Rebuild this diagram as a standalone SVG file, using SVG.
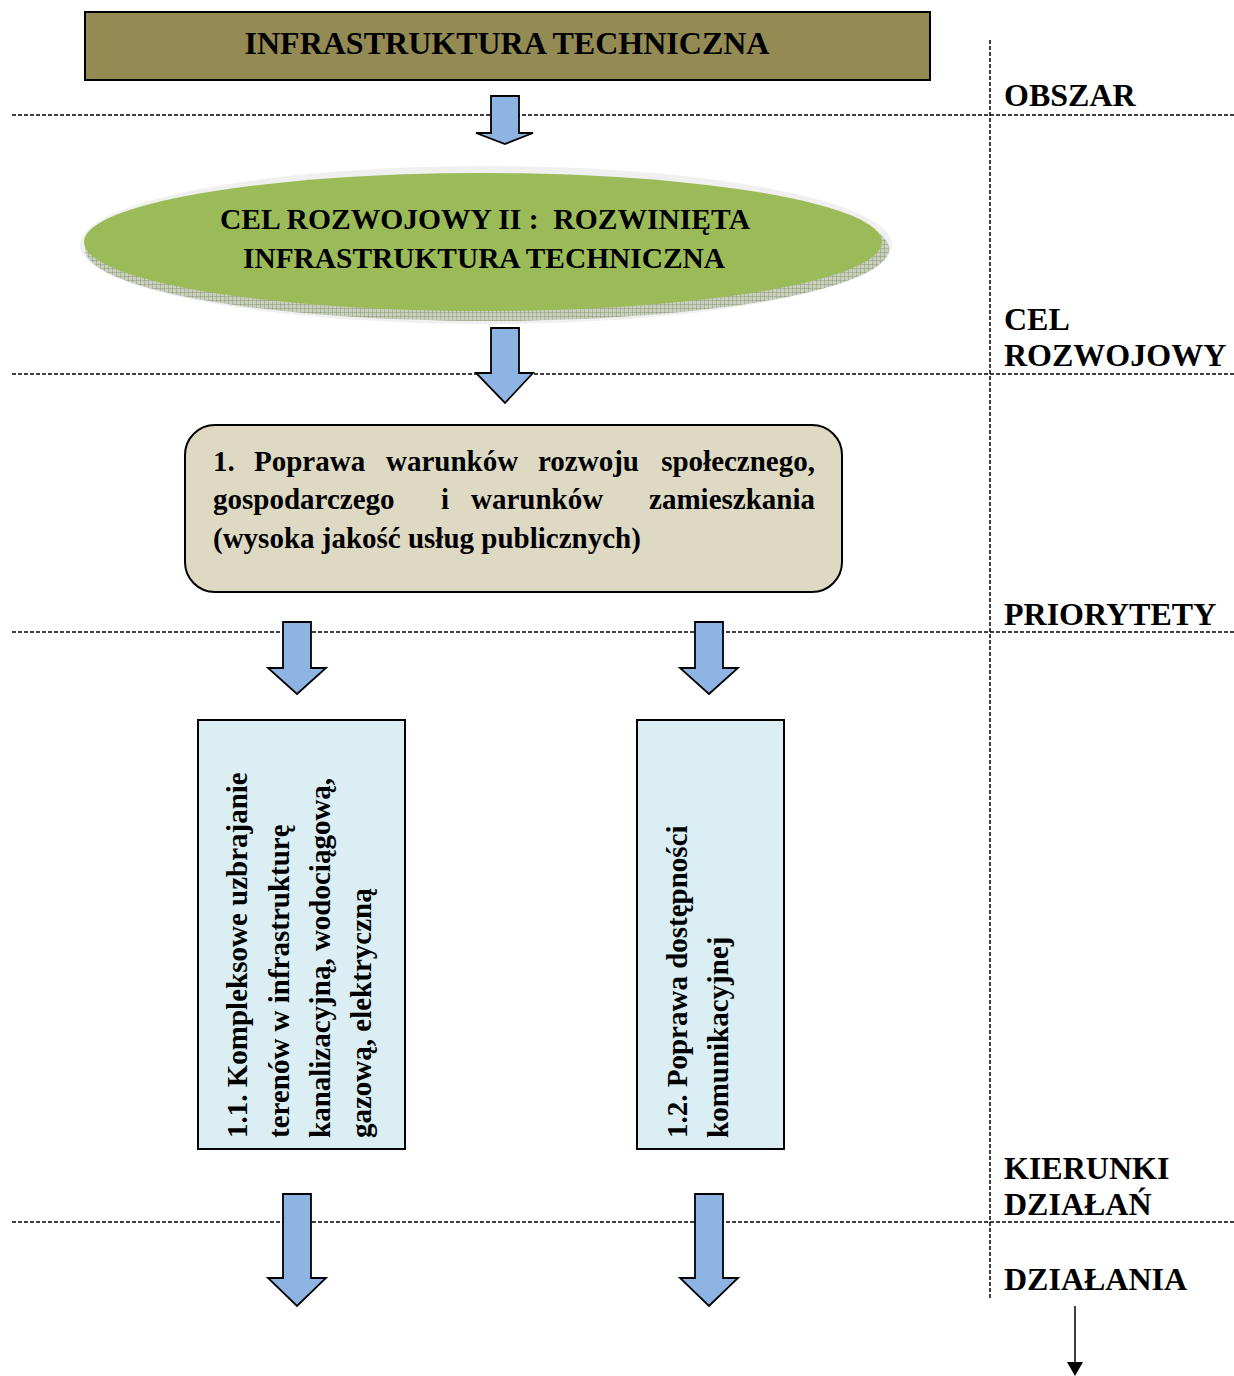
<svg xmlns="http://www.w3.org/2000/svg" width="1234" height="1376" viewBox="0 0 1234 1376">
<style>
  text { font-family: "Liberation Serif", "Times New Roman", serif; font-weight: bold; fill: #000; }
  .lbl { font-size: 32px; }
  .t29 { font-size: 29px; }
  .dash { stroke: #000; stroke-width: 1.5; stroke-dasharray: 4 2; fill: none; }
  .barrow { fill: #8EB4E3; stroke: #000; stroke-width: 1.8; stroke-linejoin: miter; }
</style>
<defs>
  <pattern id="hatch" width="4" height="4" patternUnits="userSpaceOnUse">
    <rect width="4" height="4" fill="#c9d0bd"/>
    <path d="M0 0H4M0 0V4" stroke="#7d8a68" stroke-width="0.8"/>
  </pattern>
</defs>
<rect width="1234" height="1376" fill="#fff"/>

<g id="guides">
  <line class="dash" x1="12" y1="115" x2="1234" y2="115"/>
  <line class="dash" x1="12" y1="374" x2="1234" y2="374"/>
  <line class="dash" x1="12" y1="632" x2="1234" y2="632"/>
  <line class="dash" x1="12" y1="1222" x2="1234" y2="1222"/>
  <line class="dash" x1="990" y1="40" x2="990" y2="1298"/>
</g>

<g id="labels">
  <text class="lbl" x="1004" y="106">OBSZAR</text>
  <text class="lbl" x="1004" y="330">CEL</text>
  <text class="lbl" x="1004" y="366">ROZWOJOWY</text>
  <text class="lbl" x="1004" y="625">PRIORYTETY</text>
  <text class="lbl" x="1004" y="1179">KIERUNKI</text>
  <text class="lbl" x="1004" y="1215">DZIAŁAŃ</text>
  <text class="lbl" x="1004" y="1290">DZIAŁANIA</text>
</g>

<g id="obszar">
  <rect x="85" y="12" width="845" height="68" fill="#948A54" stroke="#000" stroke-width="2"/>
  <text x="507" y="54" font-size="31" text-anchor="middle" textLength="525" lengthAdjust="spacingAndGlyphs">INFRASTRUKTURA TECHNICZNA</text>
</g>

<g id="cel">
  <ellipse cx="486" cy="245" rx="406" ry="79" fill="#f0f0f0"/>
  <ellipse cx="487" cy="249" rx="402" ry="72" fill="url(#hatch)"/>
  <ellipse cx="483" cy="242" rx="399" ry="69" fill="#9BBB59"/>
  <text class="t29" x="485" y="229" text-anchor="middle" textLength="530" lengthAdjust="spacingAndGlyphs" xml:space="preserve">CEL ROZWOJOWY II :  ROZWINIĘTA</text>
  <text class="t29" x="484" y="268" text-anchor="middle" textLength="482" lengthAdjust="spacingAndGlyphs">INFRASTRUKTURA TECHNICZNA</text>
</g>

<g id="priorytet">
  <rect x="185" y="425" width="657" height="167" rx="30" fill="#DDD9C3" stroke="#000" stroke-width="2"/>
  <text class="t29" y="471"><tspan x="213">1.</tspan><tspan x="254">Poprawa</tspan><tspan x="386">warunków</tspan><tspan x="538">rozwoju</tspan></text>
  <text class="t29" x="815" y="471" text-anchor="end">społecznego,</text>
  <text class="t29" y="509"><tspan x="213">gospodarczego</tspan><tspan x="441">i</tspan><tspan x="471">warunków</tspan></text>
  <text class="t29" x="815" y="509" text-anchor="end">zamieszkania</text>
  <text class="t29" x="213" y="548">(wysoka jakość usług publicznych)</text>
</g>

<g id="kierunek-1-1">
  <rect x="198" y="720" width="207" height="429" fill="#DAEEF3" stroke="#000" stroke-width="2"/>
  <text class="t29" transform="translate(247,1138) rotate(-90)">1.1. Kompleksowe uzbrajanie</text>
  <text class="t29" transform="translate(289,1138) rotate(-90)">terenów w infrastrukturę</text>
  <text class="t29" transform="translate(330,1138) rotate(-90)">kanalizacyjną, wodociągową,</text>
  <text class="t29" transform="translate(371,1138) rotate(-90)">gazową, elektryczną</text>
</g>

<g id="kierunek-1-2">
  <rect x="637" y="720" width="147" height="429" fill="#DAEEF3" stroke="#000" stroke-width="2"/>
  <text class="t29" transform="translate(687,1138) rotate(-90)">1.2. Poprawa dostępności</text>
  <text class="t29" transform="translate(728,1138) rotate(-90)">komunikacyjnej</text>
</g>

<g id="connectors">
  <path class="barrow" d="M491 96 H519 V133 H533 L505 144 L476 133 H491 Z"/>
  <path class="barrow" d="M491 328 H519 V373 H533 L505 403 L476 373 H491 Z"/>
  <path class="barrow" d="M283 622 H311 V668 H326 L297 694 L268 668 H283 Z"/>
  <path class="barrow" d="M695 622 H723 V668 H738 L709 694 L680 668 H695 Z"/>
  <path class="barrow" d="M283 1194 H311 V1278 H326 L297 1306 L268 1278 H283 Z"/>
  <path class="barrow" d="M695 1194 H723 V1278 H738 L709 1306 L680 1278 H695 Z"/>
  <line x1="1075" y1="1306" x2="1075" y2="1362" stroke="#000" stroke-width="1.5"/>
  <path d="M1067 1362 H1083 L1075 1376 Z" fill="#000"/>
</g>
</svg>
